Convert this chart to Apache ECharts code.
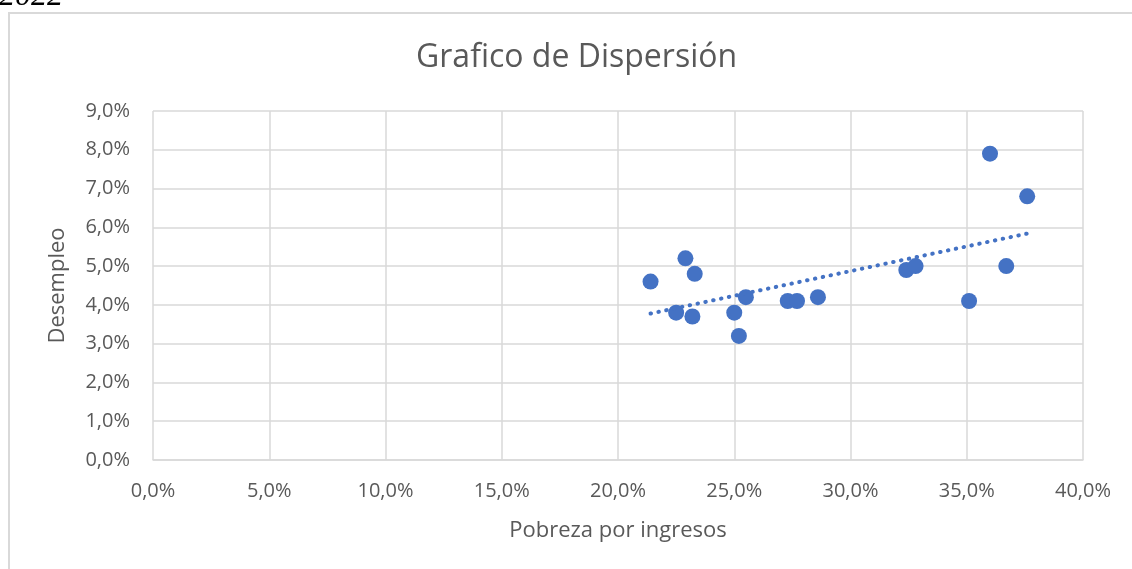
<!DOCTYPE html>
<html>
<head>
<meta charset="utf-8">
<script src="https://cdn.jsdelivr.net/npm/echarts@6/dist/echarts.min.js"></script>
<style>
  html, body { margin: 0; padding: 0; background: #fff; overflow: hidden; }
  #frame { position: absolute; left: 8px; top: 12px; width: 1300px; height: 800px;
           border-left: 2px solid #d9d9d9; border-top: 2px solid #d9d9d9; }
  #main { position: absolute; left: 0; top: 0; width: 1132px; height: 569px; }
  #year { position: absolute; left: -1px; top: -21px; font: italic 32px "Liberation Serif", serif;
          color: #000; line-height: 30px; z-index: 5; }
</style>
</head>
<body>
<div id="frame"></div>
<div id="main"></div>
<div id="year">2022</div>
<script>
// Pobreza por ingresos (%) vs Desempleo (%)
const pobreza = [21.4, 22.5, 22.9, 23.2, 23.3, 25.0, 25.2, 25.5, 27.3, 27.7, 28.6, 32.4, 32.8, 35.1, 36.0, 36.7, 37.6];
const desempleo = [4.6, 3.8, 5.2, 3.7, 4.8, 3.8, 3.2, 4.2, 4.1, 4.1, 4.2, 4.9, 5.0, 4.1, 7.9, 5.0, 6.8];

const points = pobreza.map((x, i) => [x, desempleo[i]]);

// linear trendline (least squares), like Excel's
const n = pobreza.length;
const mx = pobreza.reduce((a, b) => a + b, 0) / n;
const my = desempleo.reduce((a, b) => a + b, 0) / n;
let sxy = 0, sxx = 0;
pobreza.forEach((x, i) => { sxy += (x - mx) * (desempleo[i] - my); sxx += (x - mx) * (x - mx); });
const slope = sxy / sxx;
const icpt = my - slope * mx;
const xMin = Math.min(...pobreza), xMax = Math.max(...pobreza);
const trend = [[xMin, icpt + slope * xMin], [xMax, icpt + slope * xMax]];

const pct = v => v.toFixed(1).replace('.', ',') + '%';
const txt = '#595959';
const grid = '#d9d9d9';
const font = 'Open Sans';

var chart = echarts.init(document.getElementById('main'));
chart.setOption({
  animation: false,
  textStyle: { fontFamily: font },
  title: {
    text: 'Grafico de Dispersión',
    left: 411,
    top: 37,
    textStyle: { color: txt, fontSize: 32, fontWeight: 'normal', fontFamily: font }
  },
  grid: { left: 153, right: 49, top: 111, bottom: 109 },
  xAxis: {
    type: 'value', min: 0, max: 40, interval: 5,
    name: 'Pobreza por ingresos', nameLocation: 'middle', nameGap: 60,
    nameTextStyle: { color: txt, fontSize: 22, fontFamily: font },
    axisLine: { show: true, lineStyle: { color: grid, width: 1.5 } },
    axisTick: { show: false },
    axisLabel: { color: txt, fontSize: 20, margin: 21, formatter: pct, fontFamily: font },
    splitLine: { show: true, lineStyle: { color: grid, width: 1.5 } }
  },
  yAxis: {
    type: 'value', min: 0, max: 9, interval: 1,
    name: 'Desempleo', nameLocation: 'middle', nameGap: 84,
    nameTextStyle: { color: txt, fontSize: 22, fontFamily: font },
    axisLine: { show: false },
    axisTick: { show: false },
    axisLabel: { color: txt, fontSize: 20, margin: 23, formatter: pct, fontFamily: font },
    splitLine: { show: true, lineStyle: { color: grid, width: 1.5 } }
  },
  series: [
    {
      type: 'scatter',
      data: points,
      symbolSize: 16,
      itemStyle: { color: '#4472c4', opacity: 1 },
      z: 2
    },
    {
      type: 'line',
      data: trend,
      symbol: 'none',
      lineStyle: { color: '#4472c4', width: 4, type: [0.5, 7.5], cap: 'round' },
      z: 3
    }
  ]
});
</script>
</body>
</html>
